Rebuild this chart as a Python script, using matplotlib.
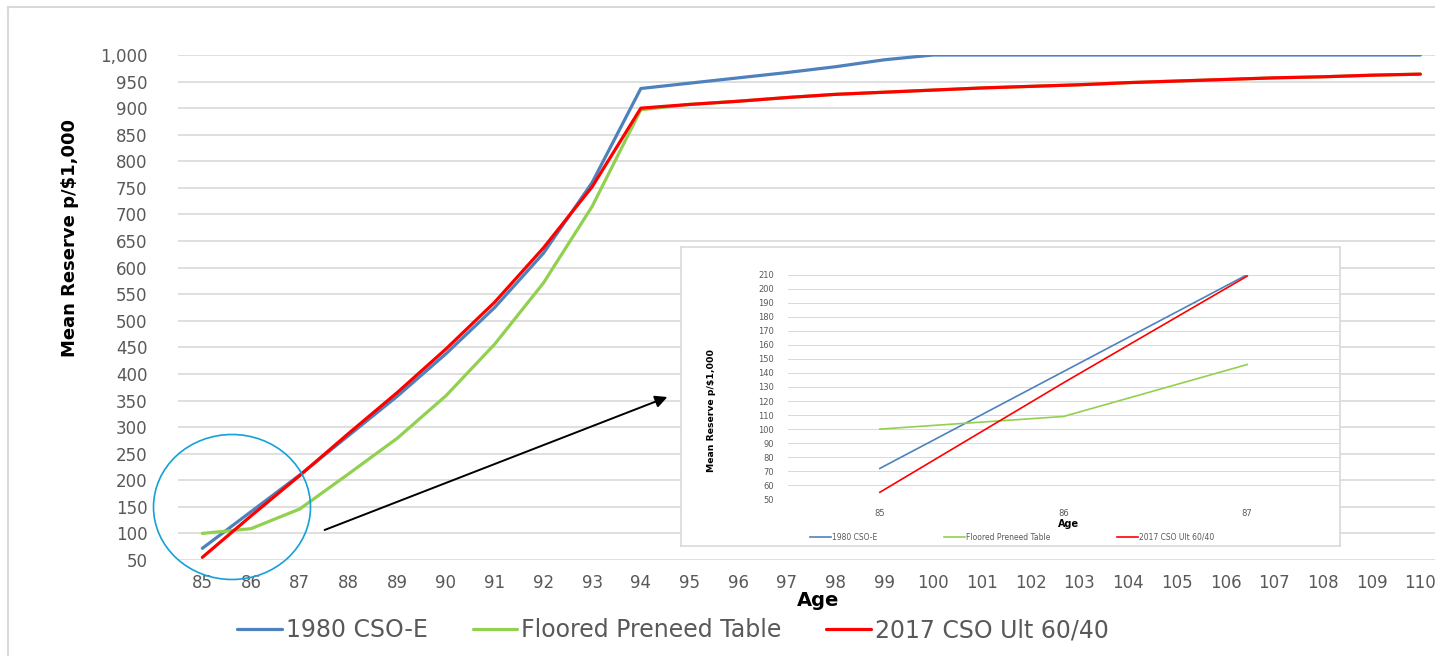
import matplotlib
matplotlib.use("Agg")
import matplotlib.pyplot as plt
from matplotlib.patches import Ellipse, FancyArrowPatch
from matplotlib.lines import Line2D

# ---------------- data ----------------
ages = list(range(85, 111))
cso1980 = [72, 141, 210, 284, 358, 438, 525, 627, 760, 937,
           947, 957, 967, 978, 991, 1000, 1000, 1000, 1000, 1000,
           1000, 1000, 1000, 1000, 1000, 1000]
floored = [100, 109, 146, 212, 279, 359, 456, 571, 715, 897,
           907, 913, 920, 926, 930, 934, 938, 941, 944, 948,
           951, 954, 957, 959, 962, 964]
cso2017 = [55, 133, 209, 288, 365, 447, 535, 637, 752, 900,
           907, 913, 920, 926, 930, 934, 938, 941, 944, 948,
           951, 954, 957, 959, 962, 964]
series_names = ["1980 CSO-E", "Floored Preneed Table", "2017 CSO Ult 60/40"]

inset_ages = [85, 86, 87]
inset_cso1980 = [72, 141, 210]
inset_floored = [100, 109, 146]
inset_cso2017 = [55, 133, 209]

main_yticks = list(range(50, 1001, 50))
inset_yticks = list(range(50, 211, 10))

# ---------------- style ----------------
W, H = 1435, 656
BLUE, GREEN, RED = "#4f81bd", "#92d050", "#ff0000"
GRID = "#d9d9d9"
TXT = "#595959"

def fx(px):
    return px / W

def fy(py):
    return 1 - py / H

fig = plt.figure(figsize=(W / 100, H / 100), dpi=100)
fig.patch.set_facecolor("white")

# outer border (left & top)
fig.add_artist(Line2D([fx(8), fx(8)], [fy(7), 0], transform=fig.transFigure, color=GRID, lw=1.5))
fig.add_artist(Line2D([fx(8), 1], [fy(7), fy(7)], transform=fig.transFigure, color=GRID, lw=1.5))

# ---------------- main axes ----------------
ax = fig.add_axes([fx(178), fy(560), 1266.7 / W, 505 / H])
for s in ax.spines.values():
    s.set_visible(False)
ax.set_xlim(84.5, 110.5)
ax.set_ylim(50, 1000)
ax.set_yticks(main_yticks)
ax.set_yticklabels([f"{v:,}" for v in main_yticks])
ax.set_xticks(ages)
ax.set_xticklabels([str(a) for a in ages])
ax.tick_params(axis="both", length=0, labelsize=12, labelcolor=TXT)
ax.tick_params(axis="y", pad=22)
ax.tick_params(axis="x", pad=10)
ax.grid(axis="y", color=GRID, lw=1.2)
ax.set_axisbelow(True)

kw = dict(lw=2.3, solid_joinstyle="round", solid_capstyle="round")
ax.plot(ages, cso1980, color=BLUE, label=series_names[0], **kw)
ax.plot(ages, floored, color=GREEN, label=series_names[1], **kw)
ax.plot(ages, cso2017, color=RED, label=series_names[2], **kw)

fig.text(fx(70), fy(238), "Mean Reserve p/$1,000", rotation=90, ha="center", va="center",
         fontsize=13, fontweight="bold")
fig.text(fx(818), fy(600), "Age", ha="center", va="center", fontsize=14, fontweight="bold")

leg = ax.legend(loc="center", bbox_to_anchor=(fx(673), fy(630)), bbox_transform=fig.transFigure,
                ncol=3, frameon=False, fontsize=17, handlelength=1.9, handletextpad=0.15,
                columnspacing=1.9)
for t in leg.get_texts():
    t.set_color(TXT)

# circle + arrow
fig.add_artist(Ellipse((fx(232), fy(507)), 157 / W, 145 / H, transform=fig.transFigure,
                       fill=False, edgecolor="#14a0d8", lw=1.2, zorder=10))
fig.add_artist(FancyArrowPatch((fx(322), fy(531)), (fx(670), fy(396)), transform=fig.transFigure,
                               arrowstyle="-|>", mutation_scale=18, lw=1.4, color="black", zorder=10))

# ---------------- inset ----------------
frame = fig.add_axes([fx(681), fy(546), 659 / W, 299 / H], zorder=5)
frame.set_xticks([])
frame.set_yticks([])
frame.set_facecolor("white")
for s in frame.spines.values():
    s.set_edgecolor(GRID)
    s.set_linewidth(1.2)

iax = fig.add_axes([fx(788), fy(499.3), 551 / W, 224.6 / H], zorder=6)
iax.patch.set_alpha(0)
for s in iax.spines.values():
    s.set_visible(False)
iax.set_xlim(84.5, 87.5)
iax.set_ylim(50, 210)
iax.set_yticks(inset_yticks)
iax.set_xticks(inset_ages)
iax.tick_params(axis="both", length=0, labelsize=6, labelcolor=TXT)
iax.tick_params(axis="y", pad=10)
iax.tick_params(axis="x", pad=7)
iax.grid(axis="y", color=GRID, lw=0.7)
iax.set_axisbelow(True)
ikw = dict(lw=1.2, solid_joinstyle="round")
iax.plot(inset_ages, inset_cso1980, color=BLUE, label=series_names[0], **ikw)
iax.plot(inset_ages, inset_floored, color=GREEN, label=series_names[1], **ikw)
iax.plot(inset_ages, inset_cso2017, color=RED, label=series_names[2], **ikw)

fig.text(fx(711), fy(411), "Mean Reserve p/$1,000", rotation=90, ha="center", va="center",
         fontsize=6.7, fontweight="bold", zorder=7)
fig.text(fx(1069), fy(524), "Age", ha="center", va="center", fontsize=7, fontweight="bold", zorder=7)

ileg = iax.legend(loc="center", bbox_to_anchor=(fx(1012), fy(537)), bbox_transform=fig.transFigure,
                  ncol=3, frameon=False, fontsize=5.5, handlelength=2.8, handletextpad=0.1,
                  columnspacing=8.7)
for t in ileg.get_texts():
    t.set_color(TXT)

fig.savefig("out.png", dpi=100, facecolor="white")
